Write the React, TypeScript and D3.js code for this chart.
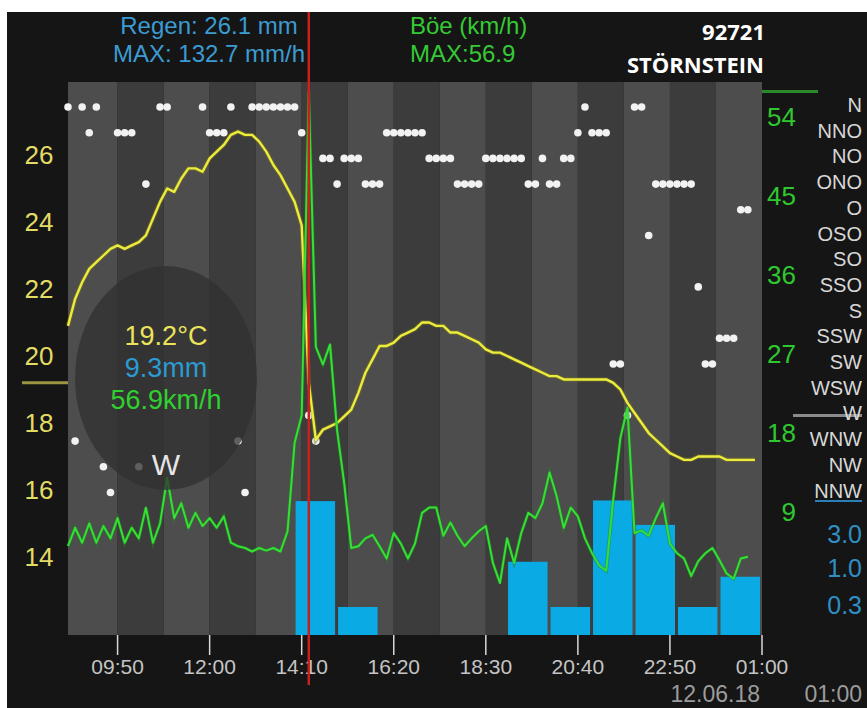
import * as d3 from "d3";

// chart window: 11.06.18 08:40 -> 12.06.18 01:00, samples every 10 min
const START = new Date(2018, 5, 11, 8, 40);
const END = new Date(2018, 5, 12, 1, 0);
const STEP_MIN = 10;

const timeTicks = ["09:50", "12:00", "14:10", "16:20", "18:30", "20:40", "22:50", "01:00"];
const tempTicks = [14, 16, 18, 20, 22, 24, 26];
const gustTicks = [9, 18, 27, 36, 45, 54];
const rainTicks = [0.3, 1.0, 3.0];
const directions = ["N", "NNO", "NO", "ONO", "O", "OSO", "SO", "SSO", "S", "SSW", "SW", "WSW", "W", "WNW", "NW", "NNW"];

// temperature °C
const temps = [
  20.9, 21.7, 22.2, 22.6, 22.8, 23.0, 23.2, 23.3, 23.2, 23.3,
  23.4, 23.6, 24.1, 24.6, 25.0, 24.9, 25.3, 25.6, 25.6, 25.5,
  25.9, 26.1, 26.3, 26.6, 26.7, 26.6, 26.6, 26.4, 26.1, 25.7,
  25.4, 25.0, 24.6, 23.9, 19.2, 17.5, 17.8, 17.9, 18.0, 18.2,
  18.4, 18.9, 19.5, 19.9, 20.3, 20.3, 20.4, 20.6, 20.7, 20.8,
  21.0, 21.0, 20.9, 20.9, 20.7, 20.7, 20.6, 20.5, 20.4, 20.2,
  20.1, 20.1, 20.0, 19.9, 19.8, 19.7, 19.6, 19.5, 19.4, 19.4,
  19.3, 19.3, 19.3, 19.3, 19.3, 19.3, 19.3, 19.2, 19.0, 18.6,
  18.3, 18.0, 17.7, 17.5, 17.3, 17.1, 17.0, 16.9, 16.9, 17.0,
  17.0, 17.0, 17.0, 16.9, 16.9, 16.9, 16.9, 16.9, null,
];

// gusts km/h
const gusts = [
  5.1, 7.2, 5.5, 7.7, 5.5, 7.4, 6.0, 8.3, 5.5, 7.2,
  6.0, 9.5, 5.5, 7.7, 12.9, 8.3, 10.0, 7.2, 8.9, 7.4,
  8.3, 7.2, 8.5, 5.5, 5.1, 4.9, 4.5, 4.9, 4.6, 4.9,
  4.5, 6.8, 16.9, 20.0, 56.9, 27.8, 25.8, 28.1, 18.3, 12.3,
  4.9, 5.1, 6.0, 6.4, 5.1, 3.7, 6.6, 5.4, 3.7, 5.4,
  8.9, 9.5, 9.5, 6.3, 7.8, 6.3, 5.1, 6.0, 6.8, 7.4,
  3.2, 0.9, 6.0, 3.2, 6.6, 8.9, 8.3, 10.0, 13.5, 10.8,
  7.2, 9.5, 8.5, 6.0, 4.3, 2.9, 2.3, 10.5, 17.4, 20.9,
  6.6, 6.9, 6.3, 8.3, 10.0, 5.4, 4.3, 3.7, 1.7, 3.4,
  4.3, 4.9, 3.5, 2.0, 1.4, 3.7, 3.9, null, null,
];

// wind direction
const windDir = [
  "N", "WNW", "N", "NNO", "N", "NW", "NNW", "NNO", "NNO", "NNO",
  "NW", "ONO", null, "N", "N", null, null, null, null, "N",
  "NNO", "NNO", "NNO", "N", "WNW", "NNW", "N", "N", "N", "N",
  "N", "N", "N", "NNO", "W", "WNW", "NO", "NO", "ONO", "NO",
  "NO", "NO", "ONO", "ONO", "ONO", "NNO", "NNO", "NNO", "NNO", "NNO",
  "NNO", "NO", "NO", "NO", "NO", "ONO", "ONO", "ONO", "ONO", "NO",
  "NO", "NO", "NO", "NO", "NO", "ONO", "ONO", "NO", "ONO", "ONO",
  "NO", "NO", "NNO", "N", "NNO", "NNO", "NNO", "SW", "SW", "W",
  "N", "N", "OSO", "ONO", "ONO", "ONO", "ONO", "ONO", "ONO", "SSO",
  "SW", "SW", "SSW", "SSW", "SSW", "O", "O", null, null,
];

// hourly rain mm
const rainHours = ["14:00", "15:00", "19:00", "20:00", "21:00", "22:00", "23:00", "00:00"];
const rainMm = [9.3, 0.3, 1.3, 0.3, 9.5, 4.3, 0.3, 0.8];

const cursorTime = "14:20";
const cursorTemp = 19.2;
const cursorRain = 9.3;
const cursorGust = 56.9;
const cursorDir = "W";

const FONT = "'Liberation Sans', Arial, sans-serif";

function parseClock(s: string): Date {
  const [h, m] = s.split(":").map(Number);
  return new Date(2018, 5, h < 8 ? 12 : 11, h, m);
}

const sampleTime = (i: number) => d3.timeMinute.offset(START, i * STEP_MIN);

export default function App() {
  const width = 867;
  const height = 708;
  const left = 68, right = 762, top = 82, bottom = 635;

  const x = d3.scaleTime().domain([START, END]).range([left, right]);
  const yT = d3.scaleLinear().domain([14, 26]).range([557, 155]);
  const yG = d3.scaleLinear().domain([9, 54]).range([512, 117]);
  const yR = d3.scaleLog().domain([0.3, 3]).range([607, 536]);
  const yD = d3.scalePoint<string>().domain(directions).range([107, 492.5]);

  const tickDates = timeTicks.map(parseClock);

  // alternating background stripes, half a tick step wide
  const stripes: { a: Date; b: Date; light: boolean }[] = [
    { a: START, b: tickDates[0], light: true },
  ];
  for (let i = 0; i < tickDates.length - 1; i++) {
    const mid = new Date((+tickDates[i] + +tickDates[i + 1]) / 2);
    stripes.push({ a: tickDates[i], b: mid, light: false });
    stripes.push({ a: mid, b: tickDates[i + 1], light: true });
  }

  const tempLine = d3
    .line<number | null>()
    .defined((d) => d != null)
    .x((_, i) => x(sampleTime(i)))
    .y((d) => yT(d as number));

  const gustLine = d3
    .line<number | null>()
    .defined((d) => d != null)
    .x((_, i) => x(sampleTime(i)))
    .y((d) => yG(d as number));

  const cx = x(parseClock(cursorTime));

  return (
    <svg
      width={width}
      height={height}
      style={{ position: "absolute", left: 0, top: 0 }}
    >
      <rect x={0} y={0} width={width} height={height} fill="#ffffff" />
      <rect x={7} y={12} width={width - 7} height={height - 12} fill="#151515" />

      {/* stripes */}
      {stripes.map((s, i) => (
        <rect
          key={i}
          x={x(s.a)}
          y={top}
          width={x(s.b) - x(s.a)}
          height={bottom - top}
          fill={s.light ? "#4d4d4d" : "#3c3c3c"}
        />
      ))}

      {/* rain bars */}
      {rainHours.map((h, i) => {
        const t0 = parseClock(h);
        const t1 = d3.timeHour.offset(t0, 1);
        const y = yR(rainMm[i]);
        return (
          <rect
            key={h}
            x={x(t0) + 1}
            y={y}
            width={x(t1) - x(t0) - 3}
            height={bottom - y}
            fill="#0aaae4"
          />
        );
      })}

      {/* wind direction dots */}
      {windDir.map((d, i) =>
        d == null ? null : (
          <circle key={i} cx={x(sampleTime(i))} cy={yD(d)} r={3.8} fill="#f2f2f2" />
        )
      )}

      <path d={tempLine(temps) || ""} fill="none" stroke="#7a7420" strokeWidth={4.5} strokeOpacity={0.5} />
      <path d={tempLine(temps) || ""} fill="none" stroke="#ecec3e" strokeWidth={2.4} strokeLinejoin="round" />
      <path d={gustLine(gusts) || ""} fill="none" stroke="#1f8a1f" strokeWidth={3.5} strokeOpacity={0.5} />
      <path d={gustLine(gusts) || ""} fill="none" stroke="#35e035" strokeWidth={2} strokeLinejoin="round" />

      {/* tooltip bubble */}
      <ellipse cx={166} cy={378} rx={91} ry={112} fill="#303030" fillOpacity={0.76} />
      <g fontFamily={FONT} fontSize={27} textAnchor="middle" dominantBaseline="central">
        <text x={166} y={336} fill="#ebe35a">{cursorTemp.toFixed(1)}°C</text>
        <text x={166} y={368} fill="#2b9bd3">{cursorRain.toFixed(1)}mm</text>
        <text x={166} y={400} fill="#2fd02f">{cursorGust.toFixed(1)}km/h</text>
        <text x={166} y={464} fill="#e6e6e6" fontSize={30}>{cursorDir}</text>
      </g>

      {/* left temperature axis */}
      <g fontFamily={FONT} fontSize={26} fill="#e2dc64" textAnchor="middle" dominantBaseline="central">
        {tempTicks.map((t) => (
          <text key={t} x={39} y={yT(t)}>{t}</text>
        ))}
      </g>
      <line x1={22} x2={left} y1={yT(cursorTemp)} y2={yT(cursorTemp)} stroke="#9c9440" strokeWidth={3} />

      {/* right gust axis */}
      <g fontFamily={FONT} fontSize={26} fill="#2ec82e" textAnchor="end" dominantBaseline="central">
        {gustTicks.map((g) => (
          <text key={g} x={796} y={yG(g)}>{g}</text>
        ))}
      </g>
      <line x1={right} x2={818} y1={yG(cursorGust)} y2={yG(cursorGust)} stroke="#2a8a2a" strokeWidth={3} />

      {/* direction labels */}
      <line x1={793} x2={862} y1={yD(cursorDir)} y2={yD(cursorDir)} stroke="#8a8a8a" strokeWidth={3} />
      <g fontFamily={FONT} fontSize={20} fill="#d8d8d8" textAnchor="end" dominantBaseline="central">
        {directions.map((d) => (
          <text key={d} x={862} y={(yD(d) as number) - 2}>{d}</text>
        ))}
      </g>

      {/* rain axis */}
      <line x1={815} x2={862} y1={yR(cursorRain)} y2={yR(cursorRain)} stroke="#2a7fb8" strokeWidth={2} />
      <g fontFamily={FONT} fontSize={25} fill="#2f8fc4" textAnchor="end" dominantBaseline="central">
        {rainTicks.map((r) => (
          <text key={r} x={862} y={yR(r) - 2}>{r.toFixed(1)}</text>
        ))}
      </g>

      {/* time axis */}
      {tickDates.map((t, i) => (
        <g key={i}>
          <line x1={x(t)} x2={x(t)} y1={bottom} y2={655} stroke="#d8d8d8" strokeWidth={1.5} />
          <text
            x={x(t)}
            y={666}
            fontFamily={FONT}
            fontSize={21}
            fill="#c4c4c4"
            textAnchor="middle"
            dominantBaseline="central"
          >
            {timeTicks[i]}
          </text>
        </g>
      ))}
      <g fontFamily={FONT} fontSize={23} fill="#9c9c9c" textAnchor="end">
        <text x={760} y={702}>12.06.18</text>
        <text x={862} y={702}>01:00</text>
      </g>

      {/* header */}
      <g fontFamily={FONT} fontSize={24}>
        <text x={209} y={34} fill="#3b9bd2" textAnchor="middle">Regen: 26.1 mm</text>
        <text x={209} y={62} fill="#3b9bd2" textAnchor="middle">MAX: 132.7 mm/h</text>
        <text x={410} y={34} fill="#35c935">Böe (km/h)</text>
        <text x={410} y={62} fill="#35c935">MAX:56.9</text>
      </g>
      <g fontFamily="'Open Sans', sans-serif" fontWeight="bold" fontSize={22} fill="#ffffff" textAnchor="end">
        <text x={765} y={40}>92721</text>
        <text x={764} y={73}>STÖRNSTEIN</text>
      </g>

      {/* cursor */}
      <line x1={cx} x2={cx} y1={12} y2={685} stroke="#c8201c" strokeWidth={2.5} />
    </svg>
  );
}
